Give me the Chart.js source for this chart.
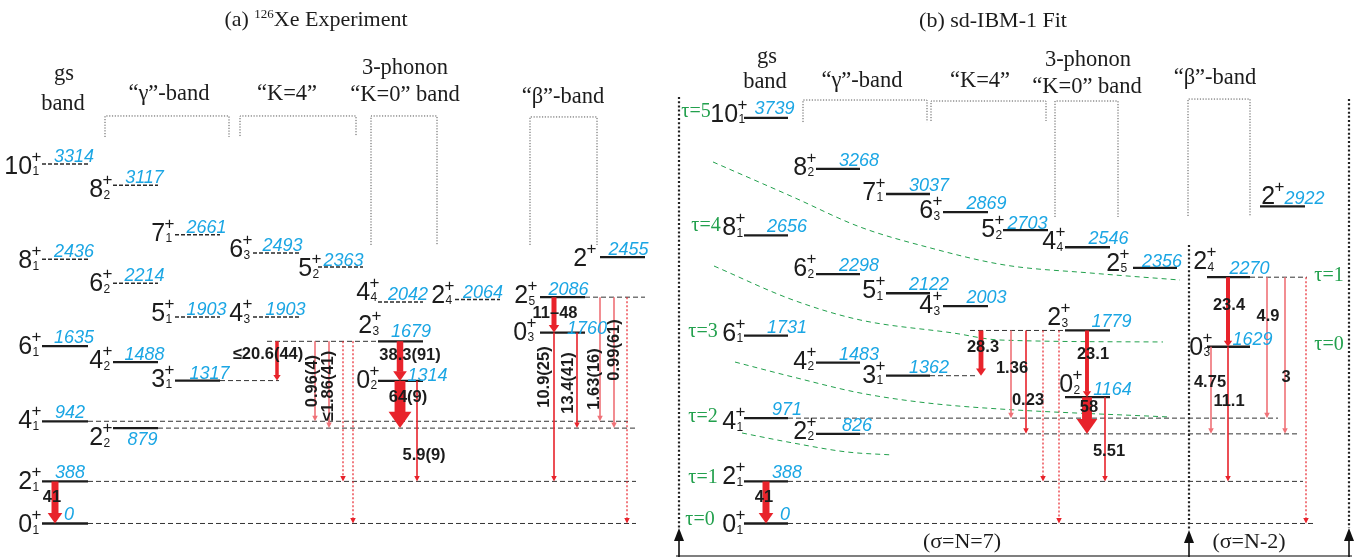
<!DOCTYPE html>
<html>
<head>
<meta charset="utf-8">
<script src="https://cdn.jsdelivr.net/npm/chart.js@4.4.1/dist/chart.umd.min.js"></script>
<style>
  html, body { margin: 0; padding: 0; background: #ffffff; }
  #wrap { width: 1370px; height: 557px; position: relative; }
</style>
</head>
<body>
<div id="wrap"><canvas id="scheme"></canvas></div>
<script>
// ---------------- (a) 126Xe experimental levels (keV) ----------------
const expSpin      = ['10','8','6','4','2','0','8','6','4','2','7','5','3','6','4','5','4','2','0','2','2','0','2'];
const expIndex     = ['1','1','1','1','1','1','2','2','2','2','1','1','1','3','3','2','4','3','2','4','5','3',''];
const expEnergy    = [3314,2436,1635,942,388,0,3117,2214,1488,879,2661,1903,1317,2493,1903,2363,2042,1679,1314,2064,2086,1760,2455];
const expColumn    = ['gs','gs','gs','gs','gs','gs','g1','g1','g1','g1','g2','g2','g2','k1','k1','k2','p1','p1','p1','p2','b1','b1','b2'];
const expTentative = [1,1,0,0,0,0,1,1,0,0,1,1,0,1,1,1,1,0,0,1,0,0,0];

// (a) E2 transitions: initial / final level energy, B(E2) value and its printed label
const expTrFrom  = [388, 1679, 1679, 1679, 1679, 1679, 1679, 1314, 1314, 2086, 1760, 1760, 2086, 2086, 2086];
const expTrTo    = [0,   1317,  942,  879,  388,    0, 1314,  879,  388, 1760,  388,  879,  942,  879,    0];
const expTrValue = [41, 20.6, 0.96, 1.86, null, null, 38.3, 64, 5.9, [11, 48], 10.9, 13.4, 1.63, 0.99, null];
const expTrLabel = ['41','≤20.6(44)','0.96(4)','≤1.86(41)','','','38.3(91)','64(9)','5.9(9)','11–48','10.9(25)','13.4(41)','1.63(16)','0.99(61)',''];

// ---------------- (b) sd-IBM-1 fit levels (keV) ----------------
const fitSpin   = ['10','8','6','4','2','0','8','6','4','2','7','5','3','6','4','5','4','2','0','2','2','0','2'];
const fitIndex  = ['1','1','1','1','1','1','2','2','2','2','1','1','1','3','3','2','4','3','2','5','4','3',''];
const fitEnergy = [3739,2656,1731,971,388,0,3268,2298,1483,826,3037,2122,1362,2869,2003,2703,2546,1779,1164,2356,2270,1629,2922];
const fitColumn = ['gs','gs','gs','gs','gs','gs','g1','g1','g1','g1','g2','g2','g2','k1','k1','k2','p1','p1','p1','p2','b1','b1','b2'];

const fitTrFrom  = [388, 1779, 1779, 1779, 1779, 1779, 1779, 1164, 1164, 2270, 1629, 1629, 2270, 2270, 2270];
const fitTrTo    = [0,   1362,  971,  826,  388,    0, 1164,  826,  388, 1629,  388,  826,  971,  826,    0];
const fitTrValue = [41, 28.3, 1.36, 0.23, null, null, 23.1, 58, 5.51, 23.4, 11.1, 4.75, 4.9, 3, null];
const fitTrLabel = ['41','28.3','1.36','0.23','','','23.1','58','5.51','23.4','11.1','4.75','4.9','3',''];

// seniority (tau) boundaries of the fit, as (column position, keV) points
const tauCurve1 = [[713,3332],[793,3009],[860,2733],[927,2548],[1005,2382],[1090,2309],[1180,2244]];
const tauCurve2 = [[714,2373],[793,2060],[860,1876],[953,1756],[1000,1691],[1163,1673]];
const tauCurve3 = [[735,1488],[793,1350],[860,1203],[927,1111],[1000,1055],[1168,982]];
const tauCurve4 = [[742,834],[793,742],[847,659],[893,631]];
const tauNames  = ['τ=5','τ=4','τ=3','τ=2','τ=1','τ=0','τ=1','τ=0'];

// ---------------- layout ----------------
const expColumns = { gs:[42,88], g1:[113,158], g2:[175,220], k1:[253,300], k2:[318,363], p1:[378,423], p2:[455,500], b1:[540,585], b2:[600,645] };
const fitColumns = { gs:[744,788], g1:[816,860], g2:[886,930], k1:[943,988], k2:[1003,1048], p1:[1065,1110], p2:[1133,1177], b1:[1207,1250], b2:[1260,1305] };

// spin label shift [dx, dy] and energy label shift [dx from centre, baseline dy]
const expSpinShift = { '10_1':[0,1], '8_2':[0,3], '7_1':[0,-3], '6_3':[0,-5], '5_1':[0,-5], '4_3':[0,-5], '4_2':[0,-3], '3_1':[0,-3],
  '2_2':[0,8], '2_1':[0,-1], '0_1':[0,0], '8_1':[0,0], '6_1':[0,-1], '6_2':[0,-1], '5_2':[4,0], '4_4':[2,-11], '2_4':[0,-6],
  '2_3':[4,-17], '0_2':[2,-2], '2_5':[-2,-3], '0_3':[-3,-2], '2_':[-3,0] };
const expEnergyShift = { '4_1':[5,-3], '2_1':[5,-3], '0_1':[4,-3], '6_1':[9,-3], '2_2':[7,17], '4_4':[7.5,-2], '2_4':[5.5,-2],
  '2_3':[10.5,-4], '0_2':[27,0], '2_5':[6,-2], '0_3':[24.5,1], '2_':[6,-2], '5_2':[3,-1], '6_3':[6,-2], '3_1':[12,-2] };
const fitSpinShift = { '10_1':[4,-5], '8_1':[2,-9], '6_1':[2,-4], '4_1':[2,2], '2_1':[2,-6], '0_1':[2,0], '8_2':[1,-3], '7_1':[0,-3],
  '6_3':[0,-3], '6_2':[1,-7], '5_1':[0,-4], '4_3':[0,-2], '4_2':[1,-3], '3_1':[0,-2], '2_2':[1,-4], '5_2':[2,-2], '4_4':[1,-7],
  '2_3':[6,-14], '0_2':[18,-14], '2_5':[-3,-6], '2_4':[10,-17], '0_3':[6,-1], '2_':[25,-11] };
const fitEnergyShift = { '10_1':[8.5,-4], '5_2':[2,-1], '2_5':[7,-1], '2_2':[19,-3], '0_1':[19,-3], '2_3':[24,-3], '0_2':[25,-2],
  '0_3':[24,-2], '2_':[22,-2] };

// arrow column and label placement (label offset in px, label height in keV)
const expTrLayout = [
  {x:55,  lx:-3,  lE:244},
  {x:277, lx:-9,  lE:1562},
  {x:315, lx:-3,  lE:1313, rot:true, light:true},
  {x:329, lx:-1,  lE:1267, rot:true, light:true},
  {x:343, dotted:true},
  {x:353, dotted:true},
  {x:400, lx:10,  lE:1553},
  {x:400, lx:8,   lE:1166},
  {x:417, lx:7,   lE:631},
  {x:554, lx:1,   lE:1940},
  {x:554, lx:-10, lE:1350, rot:true},
  {x:577, lx:-9,  lE:1295, rot:true},
  {x:600, lx:-6,  lE:1332, rot:true, light:true},
  {x:614, lx:0,   lE:1599, rot:true, light:true},
  {x:627, dotted:true}
];
const fitTrLayout = [
  {x:766,  lx:-2, lE:244},
  {x:981,  lx:2,  lE:1627},
  {x:1011, lx:1,  lE:1433, light:true},
  {x:1026, lx:2,  lE:1138},
  {x:1043, dotted:true},
  {x:1059, dotted:true},
  {x:1087, lx:6,  lE:1562},
  {x:1087, lx:2,  lE:1065},
  {x:1105, lx:4,  lE:668},
  {x:1228, lx:1,  lE:2005},
  {x:1228, lx:1,  lE:1129},
  {x:1211, lx:-1, lE:1304, light:true},
  {x:1267, lx:1,  lE:1912, light:true},
  {x:1285, lx:1,  lE:1350, light:true},
  {x:1306, dotted:true}
];

// dashed guide lines carrying a level out to its transitions
const expGuides = [ {E:1317,from:220,to:279}, {E:1679,from:267,to:378}, {E:942,from:88,to:628}, {E:879,from:158,to:636},
  {E:388,from:88,to:636}, {E:0,from:88,to:636}, {E:2086,from:585,to:645} ];
const fitGuides = [ {E:1362,from:930,to:977}, {E:1779,from:970,to:1065}, {E:971,from:788,to:1278}, {E:826,from:860,to:1297},
  {E:388,from:788,to:1303}, {E:0,from:788,to:1315}, {E:2270,from:1250,to:1307} ];

// band brackets (column position, keV)
const brackets = [
  [[105,3562],[105,3756],[229,3756],[229,3562]],
  [[240,3571],[240,3756],[356,3756],[356,3571]],
  [[371,2567],[371,3756],[437,3756],[437,2567]],
  [[530,2567],[530,3747],[597,3747],[597,2567]],
  [[803,3700],[803,3903],[927,3903],[927,3700]],
  [[931,3710],[931,3894],[1046,3894],[1046,3710]],
  [[1055,2825],[1055,3894],[1118,3894],[1118,2825]],
  [[1188,2834],[1188,3912],[1250,3912],[1250,2834]]
];

const INK = '#1c1c1c', CYAN = '#1ba6e4', RED = '#e8232b', PINK = '#ef7177', GREEN = '#22a04d';
const SANS = '"Liberation Sans", Arial, sans-serif';
const SERIF = '"Liberation Serif", "Times New Roman", serif';

function arrowWidth(v) {
  if (v == null) return 1.2;
  const m = Array.isArray(v) ? (v[0] + v[1]) / 2 : v;
  return m >= 15 ? m * 0.17 : 1.6;
}

const datasets = [];
function addLine(points, style, order) {
  datasets.push(Object.assign({
    data: points.map(p => ({ x: p[0], y: p[1] })),
    showLine: true, pointRadius: 0, pointHoverRadius: 0, fill: false,
    borderCapStyle: 'butt', order: order
  }, style));
}

function buildPanel(p) {
  p.energy.forEach((E, i) => {
    const c = p.columns[p.column[i]];
    const tentative = p.tentative && p.tentative[i];
    addLine([[c[0], E], [c[1], E]], {
      borderColor: tentative ? '#2a2a2a' : INK, borderWidth: tentative ? 1.5 : 2.3,
      borderDash: tentative ? [4, 2] : []
    }, 2);
  });
  p.guides.forEach(g => addLine([[g.from, g.E], [g.to, g.E]], { borderColor: '#333', borderWidth: 1, borderDash: [5, 3] }, 3));
  p.trFrom.forEach((Ei, k) => {
    const L = p.trLayout[k];
    const w = L.dotted ? 1.2 : arrowWidth(p.trValue[k]);
    const col = L.light ? PINK : RED;
    addLine([[L.x, Ei], [L.x, p.trTo[k]]], {
      borderColor: col, borderWidth: w, borderDash: L.dotted ? [2, 2] : [],
      head: { w: Math.max(5.5, w * 2.1), len: Math.max(5.5, w * 1.5), color: col }
    }, 0);
  });
}

const panels = [
  { spin: expSpin, index: expIndex, energy: expEnergy, column: expColumn, tentative: expTentative, columns: expColumns,
    trFrom: expTrFrom, trTo: expTrTo, trValue: expTrValue, trLabel: expTrLabel, trLayout: expTrLayout, guides: expGuides,
    spinShift: expSpinShift, spinDefault: [0, -2], energyShift: expEnergyShift, energyDefault: [9, -2] },
  { spin: fitSpin, index: fitIndex, energy: fitEnergy, column: fitColumn, tentative: null, columns: fitColumns,
    trFrom: fitTrFrom, trTo: fitTrTo, trValue: fitTrValue, trLabel: fitTrLabel, trLayout: fitTrLayout, guides: fitGuides,
    spinShift: fitSpinShift, spinDefault: [2, -3], energyShift: fitEnergyShift, energyDefault: [21, -3] }
];
panels.forEach(buildPanel);

brackets.forEach(b => addLine(b, { borderColor: '#555', borderWidth: 1, borderDash: [1.2, 1.6] }, 4));
[tauCurve1, tauCurve2, tauCurve3, tauCurve4].forEach(c =>
  addLine(c, { borderColor: GREEN, borderWidth: 1, borderDash: [5, 4], tension: 0.4, cubicInterpolationMode: 'monotone' }, 4));

// frame of the fit panel: dotted boundaries with up arrows, base line
[[679, 3931, -42], [1189, 2567, -60], [1349, 3912, -42]].forEach(v => {
  addLine([[v[0], v[1]], [v[0], v[2]]], { borderColor: '#222', borderWidth: 2.2, borderDash: [2, 2.2] }, 4);
  addLine([[v[0], -309], [v[0], v[2]]], { borderColor: '#111', borderWidth: 1.6, head: { w: 10, len: 13, color: '#111' } }, 0);
});
addLine([[676, -300], [1352, -300]], { borderColor: '#555', borderWidth: 1.5 }, 4);

// ---------------- text ----------------
const titleA = ['(a) ', '126', 'Xe Experiment'];
const titleB = '(b) sd-IBM-1 Fit';
const headers = [
  ['gs', 64, 80], ['band', 63, 110], ['“γ”-band', 169, 100], ['“K=4”', 287, 100], ['3-phonon', 405, 74], ['“K=0” band', 405, 101], ['“β”-band', 563, 103],
  ['gs', 767, 63], ['band', 765, 88], ['“γ”-band', 862, 87], ['“K=4”', 980, 87], ['3-phonon', 1088, 66], ['“K=0” band', 1087, 93], ['“β”-band', 1215, 84]
];
const tauPos = [[696,112],[706,226],[703,332],[703,417],[703,478],[700,520],[1329,276],[1329,345]];
const sigmaLabels = [['(σ=N=7)', 962, 548], ['(σ=N-2)', 1249, 548]];

const arrowHeads = {
  id: 'arrowHeads',
  beforeDatasetDraw(chart, args) {
    const ds = chart.data.datasets[args.index];
    if (!ds.head) return;
    const a = args.meta.data[0], b = args.meta.data[1];
    const up = b.y < a.y;
    const ctx = chart.ctx;
    ctx.save();
    ctx.beginPath();
    if (up) ctx.rect(0, b.y + ds.head.len - 0.5, chart.width, chart.height);
    else ctx.rect(0, 0, chart.width, b.y - ds.head.len + 0.5);
    ctx.clip();
  },
  afterDatasetDraw(chart, args) {
    const ds = chart.data.datasets[args.index];
    if (!ds.head) return;
    const ctx = chart.ctx;
    ctx.restore();
    const a = args.meta.data[0], b = args.meta.data[1];
    const s = b.y < a.y ? 1 : -1;
    ctx.save();
    ctx.fillStyle = ds.head.color;
    ctx.beginPath();
    ctx.moveTo(b.x, b.y);
    ctx.lineTo(b.x - ds.head.w / 2, b.y + s * ds.head.len);
    ctx.lineTo(b.x + ds.head.w / 2, b.y + s * ds.head.len);
    ctx.closePath();
    ctx.fill();
    ctx.restore();
  }
};

function drawSpin(ctx, xr, yc, spin, idx) {
  const MAIN = '25px ' + SANS, SUP = '17px ' + SANS, SUB = '12px ' + SANS;
  ctx.font = MAIN; const wm = ctx.measureText(spin).width;
  ctx.font = SUP; const wp = ctx.measureText('+').width;
  ctx.font = SUB; const ws = idx ? ctx.measureText(idx).width : 0;
  const x0 = xr - wm - Math.max(wp, ws);
  ctx.textAlign = 'left'; ctx.textBaseline = 'alphabetic'; ctx.fillStyle = INK;
  ctx.font = MAIN; ctx.fillText(spin, x0, yc + 9);
  ctx.font = SUP; ctx.fillText('+', x0 + wm - 0.5, yc - 3);
  if (idx) { ctx.font = SUB; ctx.fillText(idx, x0 + wm + 0.5, yc + 10.5); }
}

const labelsPlugin = {
  id: 'schemeLabels',
  afterDatasetsDraw(chart) {
    const ctx = chart.ctx, xs = chart.scales.x, ys = chart.scales.y;
    const X = v => xs.getPixelForValue(v), Y = v => ys.getPixelForValue(v);
    ctx.save();

    // titles
    const TF = '22px ' + SERIF, TS = '13px ' + SERIF;
    ctx.fillStyle = INK; ctx.textBaseline = 'alphabetic';
    ctx.font = TF; const w1 = ctx.measureText(titleA[0]).width, w3 = ctx.measureText(titleA[2]).width;
    ctx.font = TS; const w2 = ctx.measureText(titleA[1]).width;
    let tx = X(316) - (w1 + w2 + w3) / 2;
    ctx.textAlign = 'left';
    ctx.font = TF; ctx.fillText(titleA[0], tx, 26); tx += w1;
    ctx.font = TS; ctx.fillText(titleA[1], tx, 18); tx += w2;
    ctx.font = TF; ctx.fillText(titleA[2], tx, 26);
    ctx.textAlign = 'center';
    ctx.fillText(titleB, X(993), 27);

    // band headers
    ctx.font = '22.5px ' + SERIF;
    headers.forEach(h => ctx.fillText(h[0], X(h[1]), h[2]));

    // levels: spin-parity and energy
    panels.forEach(p => {
      p.energy.forEach((E, i) => {
        const key = p.spin[i] + '_' + p.index[i];
        const c = p.columns[p.column[i]];
        const y = Y(E);
        const ss = p.spinShift[key] || p.spinDefault;
        drawSpin(ctx, X(c[0]) + ss[0], y + ss[1], p.spin[i], p.index[i]);
        const es = p.energyShift[key] || p.energyDefault;
        ctx.font = 'italic 18px ' + SANS; ctx.fillStyle = CYAN; ctx.textAlign = 'center';
        ctx.fillText(String(E), X((c[0] + c[1]) / 2) + es[0], y + es[1]);
      });
      // transition strengths
      p.trLabel.forEach((t, k) => {
        if (!t) return;
        const L = p.trLayout[k];
        ctx.fillStyle = INK; ctx.textAlign = 'center'; ctx.textBaseline = 'middle';
        if (L.rot) {
          ctx.save();
          ctx.translate(X(L.x) + L.lx, Y(L.lE));
          ctx.rotate(-Math.PI / 2);
          ctx.font = 'bold 16.5px ' + SANS;
          ctx.fillText(t, 0, 0);
          ctx.restore();
        } else {
          ctx.font = 'bold 16.5px ' + SANS;
          ctx.fillText(t, X(L.x) + L.lx, Y(L.lE));
        }
        ctx.textBaseline = 'alphabetic';
      });
    });

    // seniority labels
    ctx.font = '20px ' + SERIF; ctx.fillStyle = GREEN; ctx.textAlign = 'center'; ctx.textBaseline = 'middle';
    tauNames.forEach((t, i) => ctx.fillText(t, X(tauPos[i][0]), tauPos[i][1]));

    // boson-number labels
    ctx.font = '22px ' + SERIF; ctx.fillStyle = INK; ctx.textBaseline = 'alphabetic';
    sigmaLabels.forEach(s => ctx.fillText(s[0], X(s[1]), s[2]));

    ctx.restore();
  }
};

new Chart(document.getElementById('scheme'), {
  type: 'scatter',
  data: { datasets: datasets },
  options: {
    responsive: true,
    maintainAspectRatio: false,
    animation: false,
    events: [],
    layout: { padding: 0 },
    plugins: { legend: { display: false }, tooltip: { enabled: false }, title: { display: false } },
    scales: {
      x: { type: 'linear', min: 0, max: 1370, display: false },
      y: { type: 'linear', min: -309, max: 4825, display: false }
    }
  },
  plugins: [arrowHeads, labelsPlugin]
});
</script>
</body>
</html>
